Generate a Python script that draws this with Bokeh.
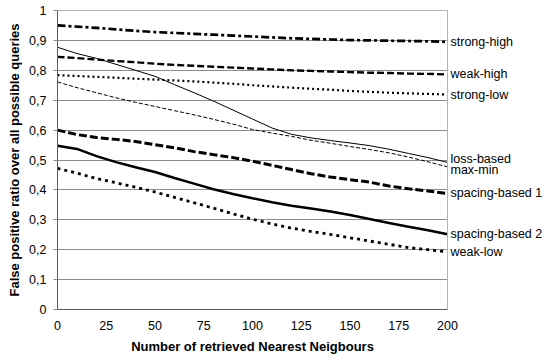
from bokeh.plotting import figure
from bokeh.models import Range1d, FixedTicker, LinearAxis
from bokeh.embed import file_html
from bokeh.resources import INLINE

x_vals = [0, 10, 20, 30, 40, 50, 60, 70, 80, 90, 100, 110, 120, 130, 140, 150, 160, 170, 180, 190, 200]

strong_high = [0.950, 0.946, 0.942, 0.937, 0.932, 0.928, 0.925, 0.922, 0.919, 0.916, 0.913,
               0.910, 0.907, 0.905, 0.903, 0.901, 0.900, 0.899, 0.898, 0.897, 0.895]
weak_high = [0.845, 0.841, 0.836, 0.831, 0.827, 0.822, 0.818, 0.815, 0.812, 0.809, 0.806,
             0.803, 0.800, 0.798, 0.796, 0.794, 0.792, 0.791, 0.789, 0.788, 0.786]
strong_low = [0.784, 0.781, 0.778, 0.775, 0.772, 0.769, 0.766, 0.763, 0.759, 0.755, 0.750,
              0.746, 0.742, 0.738, 0.735, 0.731, 0.728, 0.725, 0.723, 0.721, 0.719]
loss_based = [0.877, 0.856, 0.840, 0.820, 0.800, 0.780, 0.752, 0.725, 0.697, 0.667, 0.637,
              0.607, 0.586, 0.574, 0.565, 0.557, 0.548, 0.536, 0.522, 0.508, 0.492]
max_min = [0.761, 0.742, 0.725, 0.708, 0.693, 0.679, 0.665, 0.651, 0.636, 0.620, 0.602,
           0.590, 0.579, 0.566, 0.556, 0.545, 0.535, 0.524, 0.510, 0.494, 0.477]
spacing_1 = [0.600, 0.585, 0.575, 0.569, 0.562, 0.551, 0.541, 0.528, 0.518, 0.508, 0.496,
             0.482, 0.468, 0.454, 0.443, 0.434, 0.426, 0.413, 0.404, 0.396, 0.388]
spacing_2 = [0.548, 0.537, 0.513, 0.493, 0.476, 0.460, 0.440, 0.421, 0.402, 0.386, 0.372,
             0.359, 0.347, 0.338, 0.328, 0.316, 0.303, 0.289, 0.277, 0.265, 0.252]
weak_low = [0.472, 0.456, 0.438, 0.424, 0.409, 0.393, 0.375, 0.357, 0.339, 0.320, 0.302,
            0.286, 0.272, 0.261, 0.251, 0.240, 0.229, 0.218, 0.207, 0.200, 0.193]

series_names = ["strong-high", "weak-high", "strong-low", "loss-based", "max-min",
                "spacing-based 1", "spacing-based 2", "weak-low"]
series_values = [strong_high, weak_high, strong_low, loss_based, max_min,
                 spacing_1, spacing_2, weak_low]

x_ticks = [0, 25, 50, 75, 100, 125, 150, 175, 200]
y_ticks = [0, 0.1, 0.2, 0.3, 0.4, 0.5, 0.6, 0.7, 0.8, 0.9, 1.0]
y_tick_labels = ["0", "0,1", "0,2", "0,3", "0,4", "0,5", "0,6", "0,7", "0,8", "0,9", "1"]

x_title = "Number of retrieved Nearest Neigbours"
y_title = "False positive ratio over all possible queries"

# styles (kept separate from data)
styles = {
    "strong-high": dict(line_width=2.7, line_dash="8 3 3 3"),
    "weak-high": dict(line_width=2.4, line_dash="7 3"),
    "strong-low": dict(line_width=2.2, line_dash="2 3"),
    "loss-based": dict(line_width=1, line_dash="solid"),
    "max-min": dict(line_width=1, line_dash="4 2"),
    "spacing-based 1": dict(line_width=3, line_dash="8 3"),
    "spacing-based 2": dict(line_width=2.5, line_dash="solid"),
    "weak-low": dict(line_width=2.8, line_dash="3 4"),
}
# end-label nudges (in y units) to keep the two close labels apart
label_nudge = {"loss-based": 0.010, "max-min": -0.011}

FONT = "Liberation Sans"

p = figure(frame_width=390, frame_height=299, x_range=Range1d(0, 200), y_range=Range1d(0, 1),
           output_backend="svg", toolbar_location=None,
           min_border_left=57, min_border_right=0, min_border_top=10, min_border_bottom=0)
p.background_fill_color = "white"
p.border_fill_color = "white"
p.outline_line_color = "#b4b4b4"
p.outline_line_width = 1

p.xgrid.visible = False
p.ygrid.grid_line_color = "#8c8c8c"
p.ygrid.grid_line_width = 1

p.xaxis.ticker = FixedTicker(ticks=x_ticks)
p.yaxis.ticker = FixedTicker(ticks=y_ticks)
p.yaxis.major_label_overrides = {t: l for t, l in zip(y_ticks, y_tick_labels)}

for ax in (p.xaxis[0], p.yaxis[0]):
    ax.axis_line_color = "#5a5a5a"
    ax.axis_line_width = 1
    ax.minor_tick_line_color = None
    ax.major_label_text_font = FONT
    ax.major_label_text_font_size = "12.5px"
    ax.major_label_text_color = "black"
    ax.axis_label_text_font = FONT
    ax.axis_label_text_font_size = "13px"
    ax.axis_label_text_font_style = "bold"
    ax.axis_label_text_color = "black"

p.xaxis.axis_label = x_title
p.yaxis.axis_label = y_title
p.xaxis.major_tick_out = 0
p.xaxis.major_tick_in = 0
p.xaxis.major_label_standoff = 11
p.xaxis.axis_label_standoff = 6
p.yaxis.major_tick_out = 4
p.yaxis.major_tick_in = 0
p.yaxis.major_tick_line_color = "#8c8c8c"
p.yaxis.major_label_standoff = 7
p.yaxis.axis_label_standoff = 4

end_positions = []
end_labels = {}
for name, vals in zip(series_names, series_values):
    st = styles[name]
    p.line(x_vals, vals, line_color="black", line_width=st["line_width"],
           line_dash=st["line_dash"])
    pos = vals[-1] + label_nudge.get(name, 0.0)
    end_positions.append(pos)
    end_labels[pos] = name

right_axis = LinearAxis(ticker=FixedTicker(ticks=end_positions),
                        major_label_overrides=end_labels)
right_axis.axis_line_color = "#b4b4b4"
right_axis.major_tick_out = 0
right_axis.major_tick_in = 0
right_axis.minor_tick_line_color = None
right_axis.major_label_standoff = 3
right_axis.major_label_text_font = FONT
right_axis.major_label_text_font_size = "12.5px"
right_axis.major_label_text_color = "black"
p.add_layout(right_axis, "right")

open("out.html", "w").write(file_html(p, INLINE))
